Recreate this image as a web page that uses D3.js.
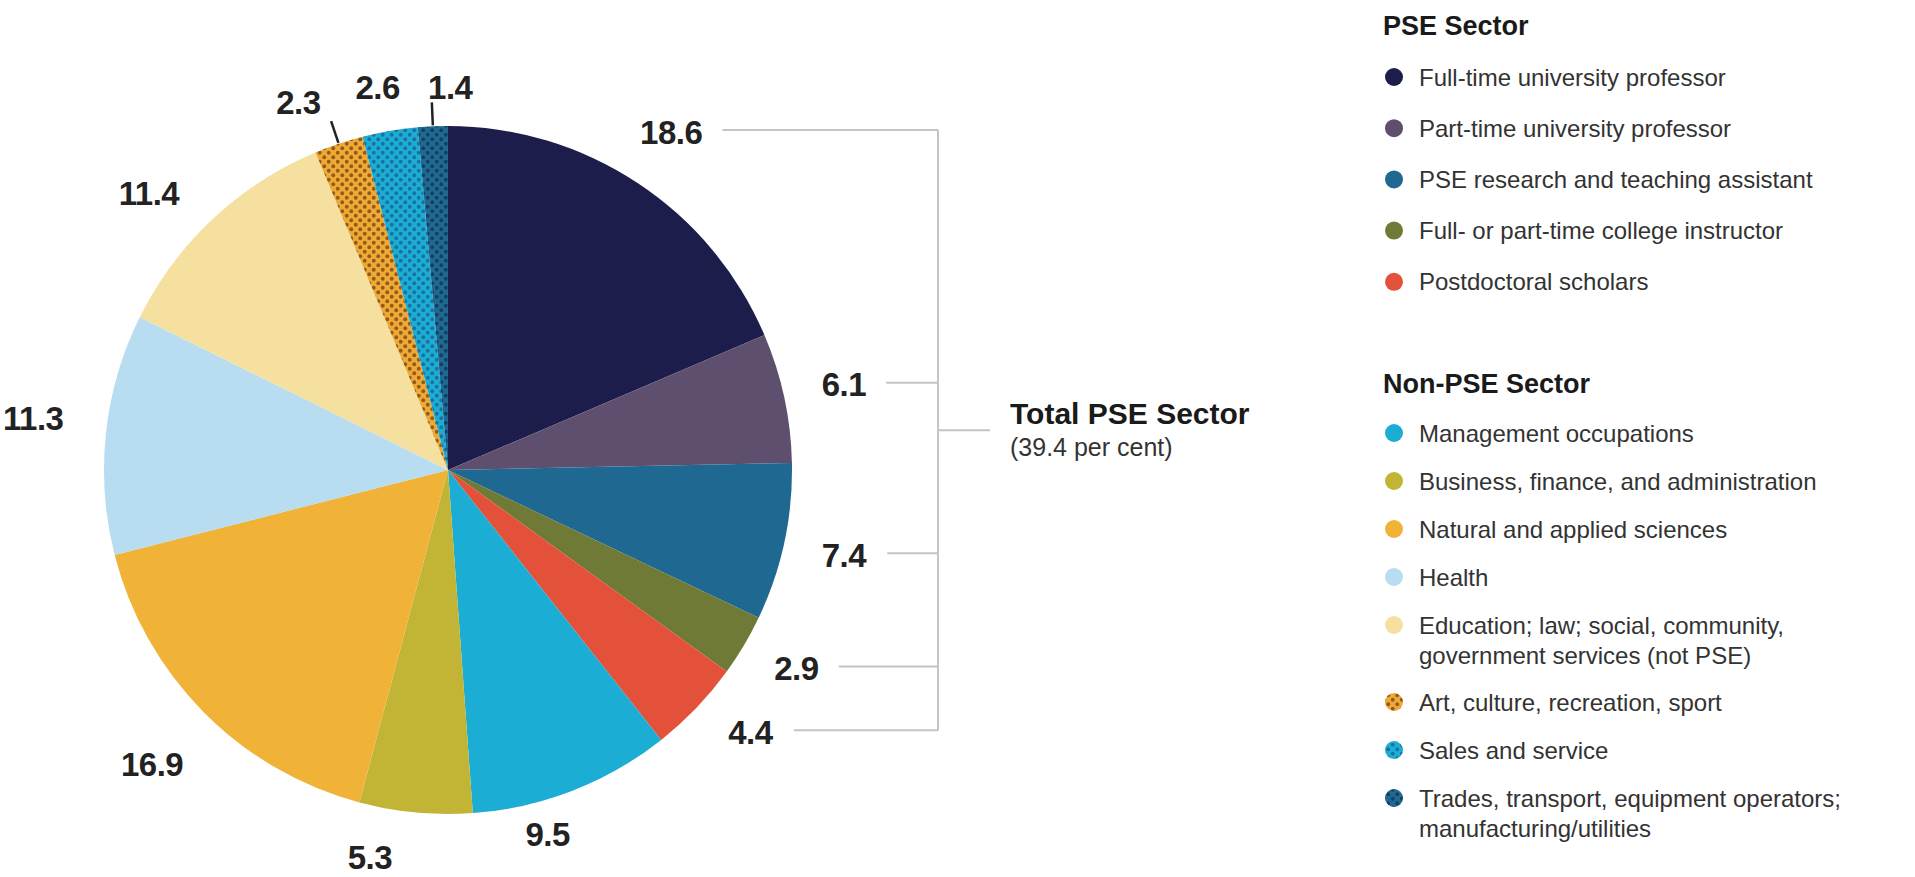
<!DOCTYPE html>
<meta charset="utf-8">
<style>
body { margin: 0; background: #fff; font-family: "Liberation Sans", Arial, sans-serif; }
.lbl { font-weight: bold; font-size: 33px; fill: #222; letter-spacing: -0.5px; }
.leg { font-size: 24px; fill: #333; }
.head { font-weight: bold; font-size: 27px; fill: #1a1a1a; }
.bracket { stroke: #c4c4c4; stroke-width: 2; fill: none; }
</style>
<body>
<script src="https://cdn.jsdelivr.net/npm/d3@7"></script>
<script>

var categories = [
  "Full-time university professor",
  "Part-time university professor",
  "PSE research and teaching assistant",
  "Full- or part-time college instructor",
  "Postdoctoral scholars",
  "Management occupations",
  "Business, finance, and administration",
  "Natural and applied sciences",
  "Health",
  "Education; law; social, community,|government services (not PSE)",
  "Art, culture, recreation, sport",
  "Sales and service",
  "Trades, transport, equipment operators;|manufacturing/utilities"
];
var values = [18.6, 6.1, 7.4, 2.9, 4.4, 9.5, 5.3, 16.9, 11.3, 11.4, 2.3, 2.6, 1.4];
var sector = ["PSE", "PSE", "PSE", "PSE", "PSE", "Non", "Non", "Non", "Non", "Non", "Non", "Non", "Non"];
var groupTitles = ["PSE Sector", "Non-PSE Sector"];
var totalLabel = "Total PSE Sector";
var totalSub = "(39.4 per cent)";

var colors = ["#1c1d4b", "#5f4f6e", "#1e6891", "#6e7a36", "#e3513a", "#1badd3",
  "#c2b536", "#f1b238", "#b8dcf0", "#f6e09f", "#f0a932", "#1aaed4", "#1f6a93"];
var dotColors = [null, null, null, null, null, null, null, null, null, null,
  "#8e5a1f", "#1d6fa0", "#143f60"];

// small hand nudges so the value labels sit where the original put them
var nudge = {
  "2.9": [0, -8], "4.4": [10, -18], "9.5": [-47, -13], "5.3": [-40, -16],
  "16.9": [-8, 10], "11.3": [-12, -9], "11.4": [-22, 19],
  "2.3": [-21, 17], "2.6": [-2, 17], "1.4": [20, 22]
};
var leaderOn = ["2.3", "1.4"];

var width = 1915, height = 877;
var cx = 448, cy = 470, R = 344;

var svg = d3.select("body").append("svg")
  .attr("width", width)
  .attr("height", height);

var defs = svg.append("defs");
values.forEach(function(v, i) {
  if (!dotColors[i]) return;
  var p = defs.append("pattern")
    .attr("id", "dots" + i)
    .attr("patternUnits", "userSpaceOnUse")
    .attr("width", 9).attr("height", 9);
  p.append("rect").attr("width", 9).attr("height", 9).attr("fill", colors[i]);
  p.append("circle").attr("cx", 2.25).attr("cy", 2.25).attr("r", 1.9).attr("fill", dotColors[i]);
  p.append("circle").attr("cx", 6.75).attr("cy", 6.75).attr("r", 1.9).attr("fill", dotColors[i]);
});
function fillOf(i) { return dotColors[i] ? "url(#dots" + i + ")" : colors[i]; }

var pie = d3.pie().sort(null).value(function(d) { return d; });
var arcs = pie(values);
var arc = d3.arc().innerRadius(0).outerRadius(R);
var labelArc = d3.arc().innerRadius(R + 61).outerRadius(R + 61);

var g = svg.append("g").attr("transform", "translate(" + cx + "," + cy + ")");

g.selectAll("path.slice")
  .data(arcs)
  .enter().append("path")
  .attr("class", "slice")
  .attr("d", arc)
  .attr("fill", function(d, i) { return fillOf(i); });

// leader lines for the thin slices
arcs.forEach(function(d, i) {
  var key = values[i].toFixed(1);
  if (leaderOn.indexOf(key) < 0) return;
  var a = (d.startAngle + d.endAngle) / 2;
  g.append("line")
    .attr("x1", Math.sin(a) * (R + 1)).attr("y1", -Math.cos(a) * (R + 1))
    .attr("x2", Math.sin(a) * (R + 24)).attr("y2", -Math.cos(a) * (R + 24))
    .attr("stroke", "#222").attr("stroke-width", 2.5);
});

var labels = g.selectAll("text.lbl")
  .data(arcs)
  .enter().append("text")
  .attr("class", "lbl")
  .attr("text-anchor", "middle")
  .attr("dominant-baseline", "central")
  .attr("x", function(d) {
    var k = d.value.toFixed(1);
    return labelArc.centroid(d)[0] + (nudge[k] ? nudge[k][0] : 0);
  })
  .attr("y", function(d) {
    var k = d.value.toFixed(1);
    return labelArc.centroid(d)[1] + (nudge[k] ? nudge[k][1] : 0);
  })
  .text(function(d) { return d.value.toFixed(1); });

// bracket grouping the PSE sector slices
var bracketX = 938;
var ys = [];
labels.each(function(d, i) {
  if (sector[i] !== "PSE") return;
  var bb = this.getBBox();
  var y = cy + bb.y + bb.height / 2 - 2;
  ys.push(y);
  svg.append("line").attr("class", "bracket")
    .attr("x1", cx + bb.x + bb.width + 20).attr("x2", bracketX)
    .attr("y1", y).attr("y2", y);
});
var y0 = d3.min(ys), y1 = d3.max(ys), ym = (y0 + y1) / 2;
svg.append("line").attr("class", "bracket")
  .attr("x1", bracketX).attr("x2", bracketX).attr("y1", y0).attr("y2", y1);
svg.append("line").attr("class", "bracket")
  .attr("x1", bracketX).attr("x2", bracketX + 52).attr("y1", ym).attr("y2", ym);
svg.append("text")
  .attr("x", 1010).attr("y", ym - 6)
  .attr("font-weight", "bold").attr("font-size", 30).attr("fill", "#1a1a1a")
  .text(totalLabel);
svg.append("text")
  .attr("x", 1010).attr("y", ym + 26)
  .attr("font-size", 25).attr("fill", "#333")
  .text(totalSub);

// legend
var legX = 1383;
var groups = [
  { title: groupTitles[0], key: "PSE", top: 35, first: 77, step: 51.2 },
  { title: groupTitles[1], key: "Non", top: 393, first: 433, step: 48 }
];
groups.forEach(function(grp) {
  svg.append("text").attr("class", "head").attr("x", legX).attr("y", grp.top).text(grp.title);
  var y = grp.first;
  categories.forEach(function(c, i) {
    if (sector[i] !== grp.key) return;
    svg.append("circle").attr("cx", legX + 11).attr("cy", y).attr("r", 9).attr("fill", fillOf(i));
    var lines = c.split("|");
    var t = svg.append("text").attr("class", "leg").attr("x", legX + 36).attr("y", y + 8.5);
    lines.forEach(function(s, j) {
      t.append("tspan").attr("x", legX + 36).attr("dy", j ? 30 : 0).text(s);
    });
    y += grp.step + (lines.length - 1) * 29;
  });
});

</script>
